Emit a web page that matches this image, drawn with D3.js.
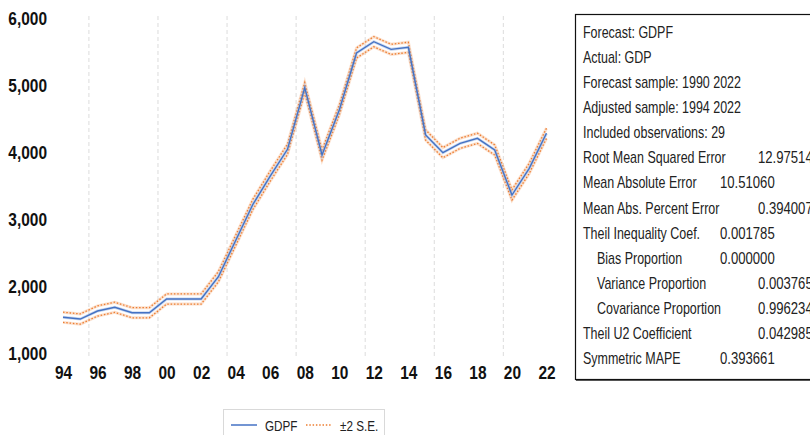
<!DOCTYPE html>
<html>
<head>
<meta charset="utf-8">
<script src="https://cdn.jsdelivr.net/npm/d3@7"></script>
<style>
  html, body { margin: 0; padding: 0; background: #fff; }
  svg { display: block; }
  .axis-label { font-family: "Liberation Sans", Arial, sans-serif; font-weight: bold; fill: #111; }
  .stat { font-family: "Liberation Sans", Arial, sans-serif; font-size: 16px; fill: #222; }
  .legend-text { font-family: "Liberation Sans", Arial, sans-serif; font-size: 15px; fill: #222; }
</style>
</head>
<body>
<svg id="chart" width="810" height="435"></svg>
<script>
// Static forecast of GDP, 1994-2022
const years = d3.range(1994, 2023);
const gdpf = [1533, 1507, 1627, 1682, 1601, 1601, 1806, 1806, 1806, 2139,
              2680, 3220, 3640, 4040, 4960, 3955, 4627, 5478, 5646, 5532,
              5562, 4254, 3990, 4130, 4204, 4030, 3358, 3756, 4279];
// forecast standard error for each year
const se = [38, 38, 38, 38, 38, 38, 38, 38, 38, 38,
            38, 38, 38, 38, 38, 38, 38, 38, 38, 38,
            38, 38, 38, 38, 38, 38, 38, 38, 38];

const yTicks = [1000, 2000, 3000, 4000, 5000, 6000];
const xTicks = [1994, 1996, 1998, 2000, 2002, 2004, 2006, 2008, 2010, 2012, 2014, 2016, 2018, 2020, 2022];
const gridYears = [1995.5, 1999.5, 2003.5, 2007.5, 2011.5, 2015.5, 2019.5];

// forecast evaluation table
const statLabels = ["Forecast: GDPF", "Actual: GDP", "Forecast sample: 1990 2022",
  "Adjusted sample: 1994 2022", "Included observations: 29", "Root Mean Squared Error",
  "Mean Absolute Error", "Mean Abs. Percent Error", "Theil Inequality Coef.",
  "Bias Proportion", "Variance Proportion", "Covariance Proportion",
  "Theil U2 Coefficient", "Symmetric MAPE"];
const statValues = ["", "", "", "", "", "12.97514", "10.51060", "0.394007", "0.001785",
  "0.000000", "0.003765", "0.996234", "0.042985", "0.393661"];
const statIndent = [0, 0, 0, 0, 0, 0, 0, 0, 0, 1, 1, 1, 0, 0];
const statCol = [0, 0, 0, 0, 0, 1, 0, 1, 0, 0, 1, 1, 1, 0];

// condensed look for all chart text
const squeeze = 0.86;
const squeezeSmall = 0.78;
const squeezeValue = 0.82;

const svg = d3.select("#chart");

const x = d3.scaleLinear().domain([1994, 2022]).range([63, 546.5]);
const y = d3.scaleLinear().domain([1000, 6000]).range([353, 18]);

// vertical dashed grid
svg.append("g").selectAll("line").data(gridYears).join("line")
  .attr("x1", d => x(d)).attr("x2", d => x(d))
  .attr("y1", 16).attr("y2", 356)
  .attr("stroke", "#dcdcdc").attr("stroke-width", 1)
  .attr("stroke-dasharray", "4,3");

// y axis labels
const yAxis = svg.append("g").attr("transform", "translate(47,0)")
  .call(d3.axisLeft(y).tickValues(yTicks).tickSize(0).tickPadding(0).tickFormat(d3.format(",")));
yAxis.select(".domain").remove();
yAxis.selectAll("text").attr("class", "axis-label").attr("font-size", 18).attr("dy", "0.35em")
  .attr("transform", `scale(${squeeze},1)`);

// x axis labels
const xAxis = svg.append("g").attr("transform", "translate(0,366)")
  .call(d3.axisBottom(x).tickValues(xTicks).tickSize(0).tickPadding(0)
    .tickFormat(d => String(d % 100).padStart(2, "0")));
xAxis.select(".domain").remove();
xAxis.selectAll("text").attr("class", "axis-label").attr("font-size", 18).attr("dy", "0.71em")
  .attr("transform", `scale(${squeeze},1)`);

// series
const line = d3.line().x((d, i) => x(years[i])).y(d => y(d));
const upper = gdpf.map((v, i) => v + 2 * se[i]);
const lower = gdpf.map((v, i) => v - 2 * se[i]);

const plot = svg.append("g");
[upper, lower].forEach(band => {
  plot.append("path").datum(band).attr("d", line)
    .attr("fill", "none").attr("stroke", "#f4b183").attr("stroke-opacity", 0.4)
    .attr("stroke-width", 3);
  plot.append("path").datum(band).attr("d", line)
    .attr("fill", "none").attr("stroke", "#ed7d31")
    .attr("stroke-width", 1.3).attr("stroke-dasharray", "1.5,1.8");
});
plot.append("path").datum(gdpf).attr("d", line)
  .attr("fill", "none").attr("stroke", "#8faadc").attr("stroke-opacity", 0.45)
  .attr("stroke-width", 3);
plot.append("path").datum(gdpf).attr("d", line)
  .attr("fill", "none").attr("stroke", "#4472c4").attr("stroke-width", 1.4);

// legend
const leg = svg.append("g");
leg.append("rect").attr("x", 223.5).attr("y", 409.5).attr("width", 161).attr("height", 32)
  .attr("fill", "#fff").attr("stroke", "#d9d9d9");
leg.append("line").attr("x1", 231).attr("x2", 257).attr("y1", 425).attr("y2", 425)
  .attr("stroke", "#4472c4").attr("stroke-width", 1.5);
leg.append("text").attr("class", "legend-text")
  .attr("transform", `translate(265,431) scale(${squeezeSmall},1)`).text("GDPF");
leg.append("line").attr("x1", 306).attr("x2", 332).attr("y1", 425).attr("y2", 425)
  .attr("stroke", "#ed7d31").attr("stroke-width", 1.4).attr("stroke-dasharray", "1.5,1.8");
leg.append("text").attr("class", "legend-text")
  .attr("transform", `translate(340,431) scale(${squeezeSmall},1)`).text("\u00b12 S.E.");

// statistics box
const box = svg.append("g");
box.append("rect").attr("x", 575.5).attr("y", 14.5).attr("width", 260).attr("height", 365)
  .attr("fill", "#fff").attr("stroke", "#111").attr("stroke-width", 1.2);
box.append("line").attr("x1", 576).attr("x2", 810).attr("y1", 380.5).attr("y2", 380.5)
  .attr("stroke", "#555").attr("stroke-width", 1);
const rowY = d3.scaleLinear().domain([0, 13]).range([38, 364]);
const colX = [720, 758];
box.selectAll("text.lab").data(statLabels).join("text")
  .attr("class", "stat lab")
  .attr("transform", (d, i) => `translate(${statIndent[i] ? 597 : 583},${rowY(i)}) scale(${squeezeSmall},1)`)
  .text(d => d);
box.selectAll("text.val").data(statValues).join("text")
  .attr("class", "stat val")
  .attr("transform", (d, i) => `translate(${colX[statCol[i]]},${rowY(i)}) scale(${squeezeValue},1)`)
  .text(d => d);
</script>
</body>
</html>
